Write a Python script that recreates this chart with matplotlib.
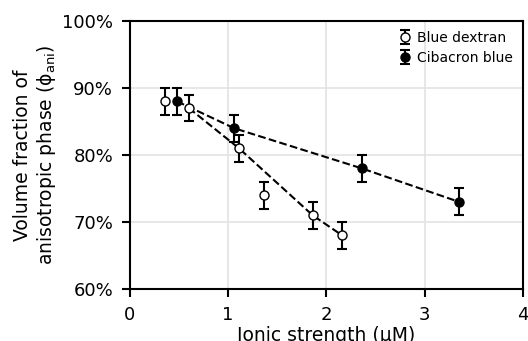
import matplotlib
matplotlib.use("Agg")
import matplotlib.pyplot as plt
from matplotlib.ticker import PercentFormatter

# data
dextran_x = [0.36, 0.60, 1.11, 1.36, 1.86, 2.16]
dextran_y = [88, 87, 81, 74, 71, 68]
dextran_err = [2, 2, 2, 2, 2, 2]
dextran_line_idx = [1, 2, 4, 5]

cibacron_x = [0.48, 1.06, 2.36, 3.35]
cibacron_y = [88, 84, 78, 73]
cibacron_err = [2, 2, 2, 2]

xticks = [0, 1, 2, 3, 4]
yticks = [60, 70, 80, 90, 100]

fig = plt.figure(figsize=(5.28, 3.41), dpi=100)
ax = fig.add_axes([0.246, 0.1525, 0.7445, 0.786])

ax.grid(True, color="#e3e3e3", linewidth=1.2, zorder=0)
ax.set_axisbelow(True)

lx = [dextran_x[i] for i in dextran_line_idx]
ly = [dextran_y[i] for i in dextran_line_idx]
ax.plot(lx, ly, "--", color="black", linewidth=1.5, zorder=2)
ax.plot(cibacron_x, cibacron_y, "--", color="black", linewidth=1.5, zorder=2)

ax.errorbar(dextran_x, dextran_y, yerr=dextran_err, fmt="o", mfc="white",
            mec="black", color="black", ms=6.5, capsize=3.3, elinewidth=1.5,
            capthick=1.5, label="Blue dextran", zorder=3)
ax.errorbar(cibacron_x, cibacron_y, yerr=cibacron_err, fmt="o", mfc="black",
            mec="black", color="black", ms=6.5, capsize=3.3, elinewidth=1.5,
            capthick=1.5, label="Cibacron blue", zorder=3)

ax.set_xlim(0, 4)
ax.set_ylim(60, 100)
ax.set_xticks(xticks)
ax.set_yticks(yticks)
ax.yaxis.set_major_formatter(PercentFormatter(decimals=0))
ax.tick_params(direction="out", length=5.5, width=1.5, labelsize=13, pad=6.5)
for s in ax.spines.values():
    s.set_linewidth(1.5)

ax.set_xlabel("Ionic strength (μM)", fontsize=13.5, labelpad=2)
ax.set_ylabel("Volume fraction of\nanisotropic phase (ϕ$_\\mathregular{ani}$)",
              fontsize=13.5, labelpad=3)

ax.legend(loc="upper right", frameon=False, fontsize=10, handletextpad=0.4,
          borderaxespad=0.3, labelspacing=0.45, handlelength=1.0)

fig.savefig("out.png", dpi=100)
